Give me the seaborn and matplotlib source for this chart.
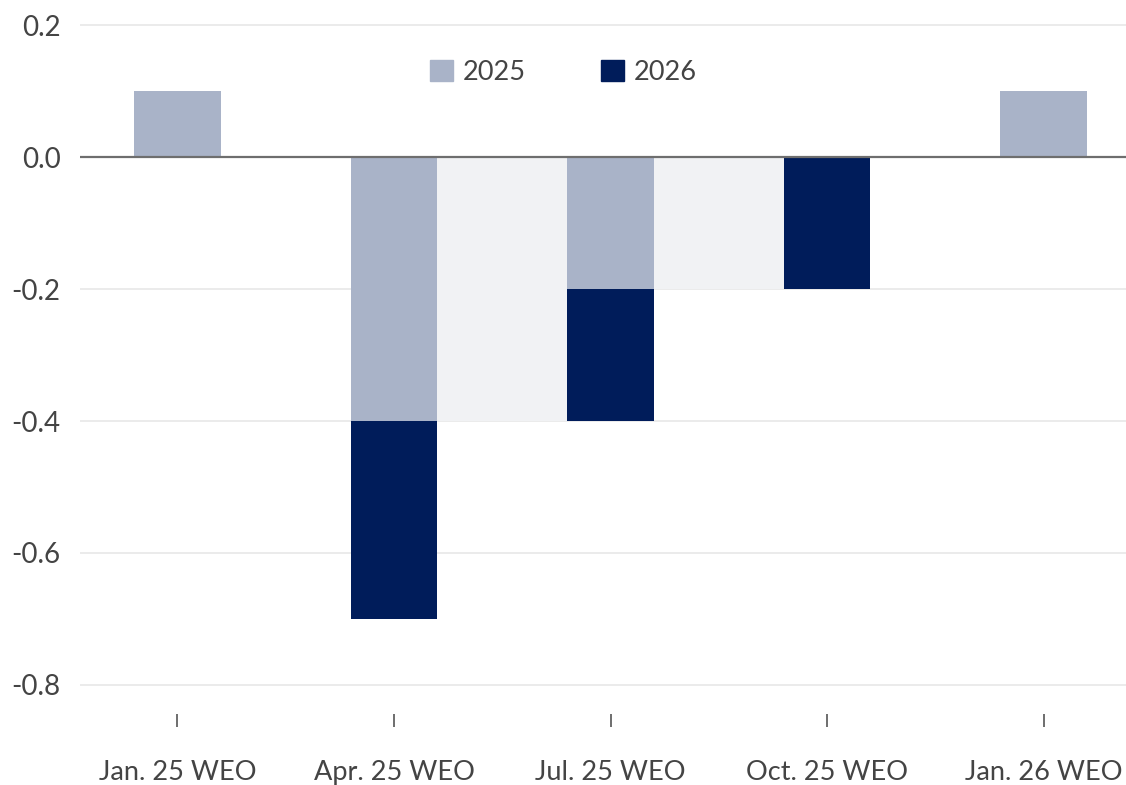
import pandas as pd
import matplotlib.pyplot as plt
import seaborn as sns
from matplotlib.patches import Patch

# revisions to growth forecast, percentage points
releases = ["Jan. 25 WEO", "Apr. 25 WEO", "Jul. 25 WEO", "Oct. 25 WEO", "Jan. 26 WEO"]
rev_2025 = [0.1, -0.4, -0.2, 0.0, 0.1]
rev_2026 = [0.0, -0.3, -0.2, -0.2, 0.0]

c25 = "#a9b3c8"
c26 = "#001c5a"
shade = "#f1f2f4"
txt = "#444444"

df = pd.DataFrame({"release": releases, "y2025": rev_2025, "y2026": rev_2026})
df["total"] = df["y2025"] + df["y2026"]

sns.set_theme(style="white")
plt.rcParams["font.family"] = ["Lato", "DejaVu Sans"]

fig = plt.figure(figsize=(11.26, 7.85), dpi=100)
ax = fig.add_axes([80 / 1126, 1 - 714 / 785, 1 - 80 / 1126, 714 / 785])

w = 0.4
# light connector between bars at the previous 2025 level
for i in range(len(df) - 1):
    lvl = df["y2025"][i]
    if lvl < 0:
        ax.fill_between([i + w / 2, i + 1 - w / 2], lvl, 0, color=shade, lw=0, zorder=1)

# stacked bars: 2026 drawn as the full stack, 2025 on top of it
sns.barplot(data=df, x="release", y="total", color=c26, saturation=1, width=w,
            order=releases, ax=ax, zorder=2, linewidth=0)
sns.barplot(data=df, x="release", y="y2025", color=c25, saturation=1, width=w,
            order=releases, ax=ax, zorder=3, linewidth=0)

ax.set_ylim(-0.844, 0.238)
ax.set_xlim(-0.45, 4.38)
ax.set_yticks([0.2, 0.0, -0.2, -0.4, -0.6, -0.8])
ax.set_yticklabels(["0.2", "0.0", "-0.2", "-0.4", "-0.6", "-0.8"])
ax.grid(axis="y", color="#e8e8e8", lw=1.2, zorder=0)
ax.set_axisbelow(True)
ax.axhline(0, color="#6e6e6e", lw=1.6, zorder=4)

for s in ax.spines.values():
    s.set_visible(False)
ax.set_xlabel("")
ax.set_ylabel("")
ax.tick_params(axis="y", length=0, pad=14, labelsize=20, labelcolor=txt)
ax.tick_params(axis="x", length=9, width=1.2, color="#555555", direction="out",
               pad=24, labelsize=19.5, labelcolor=txt, bottom=True)

handles = [Patch(color=c25, label="2025"), Patch(color=c26, label="2026")]
ax.legend(handles=handles, loc="center", bbox_to_anchor=(0.462, 0.899), ncol=2,
          frameon=False, fontsize=19.5, handlelength=0.85, handleheight=0.85,
          handletextpad=0.35, columnspacing=2.8, labelcolor=txt)

fig.savefig("out.png", dpi=100)
